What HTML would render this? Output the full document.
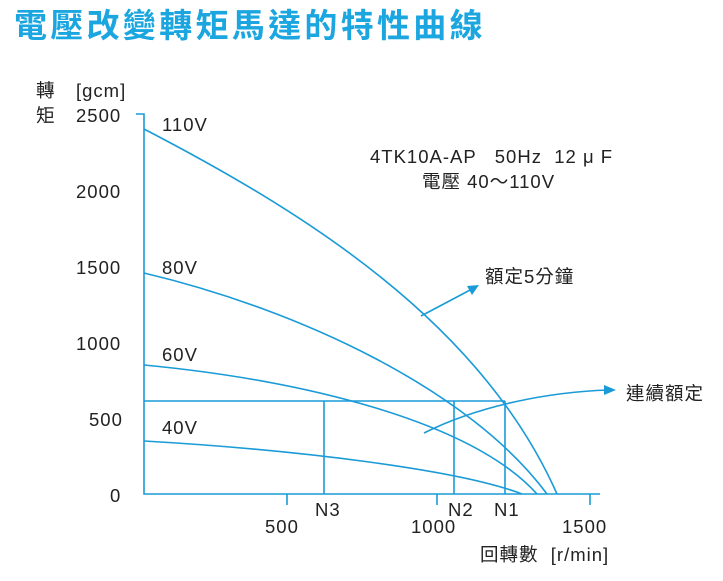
<!DOCTYPE html>
<html><head><meta charset="utf-8"><style>
body{margin:0;background:#fff;width:723px;height:576px;overflow:hidden}
svg text{font-family:"Liberation Sans","Noto Sans CJK TC",sans-serif;fill:#222;white-space:pre}
</style></head><body>
<svg width="723" height="576" viewBox="0 0 723 576">
<text x="14" y="37" style="font-size:33px;font-weight:bold;fill:#1ba6e0;letter-spacing:3.3px">電壓改變轉矩馬達的特性曲線</text>
<g font-size="18.5" letter-spacing="1">
<text x="36" y="97">轉</text><text x="36" y="122">矩</text>
<text x="76" y="97">[gcm]</text>
<text x="76" y="122">2500</text>
<text x="76" y="198">2000</text>
<text x="76" y="274">1500</text>
<text x="76" y="350">1000</text>
<text x="89" y="426">500</text>
<text x="110" y="502">0</text>
<text x="265" y="533">500</text>
<text x="411" y="533">1000</text>
<text x="562" y="533">1500</text>
<text x="315" y="516">N3</text>
<text x="448" y="516">N2</text>
<text x="494" y="516">N1</text>
<text x="480" y="561">回轉數  [r/min]</text>
<text x="162" y="131">110V</text>
<text x="162" y="274">80V</text>
<text x="162" y="361">60V</text>
<text x="162" y="434">40V</text>
<text x="370" y="163">4TK10A-AP   50Hz  12 μ F</text>
<text x="422" y="188">電壓 40～110V</text>
<text x="485" y="283">額定5分鐘</text>
<text x="626" y="400">連續額定</text>
</g>
<g stroke="#1a9bd7" stroke-width="1.6" fill="none">
<path d="M136,114H144V494H600"/>
<path d="M287,494V505M437,494V505M590,494V505"/>
<path d="M144,401H505"/>
<path d="M324,401V494M454,401V494M505,401V494"/>
<path d="M144,129 C300,210 480,320 557,494"/>
<path d="M144,273 C300,310 470,390 547,494"/>
<path d="M144,365 C300,380 470,420 537,494"/>
<path d="M144,441 C300,450 460,470 522,494"/>
<path d="M424,433 C480,405 550,392 608,390"/>
<path d="M421,316 L472,289"/>
</g>
<polygon points="616,390 604,385 604,395" fill="#1a9bd7"/>
<polygon points="479,285 467,286 472,295" fill="#1a9bd7"/>
</svg>
</body></html>
